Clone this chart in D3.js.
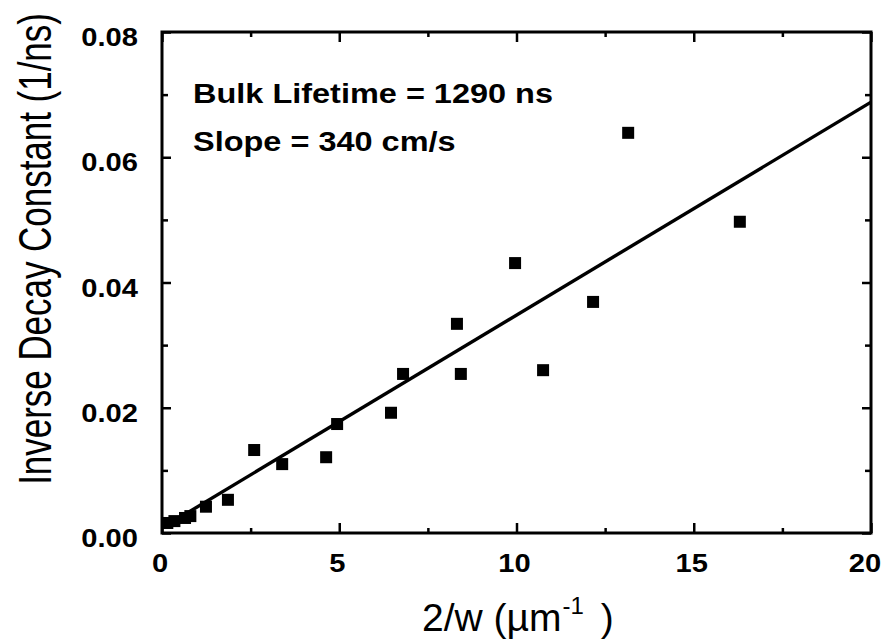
<!DOCTYPE html>
<html>
<head>
<meta charset="utf-8">
<script src="https://cdn.jsdelivr.net/npm/d3@7"></script>
<style>
  html, body { margin: 0; padding: 0; background: #fff; }
  svg { display: block; }
  text { font-family: "Liberation Sans", Arial, Helvetica, sans-serif; fill: #000; }
</style>
</head>
<body>
<svg id="chart" width="884" height="639"></svg>
<script>
// ---- data ----
const pointX = [0.15, 0.35, 0.65, 0.8, 1.24, 1.86, 2.6, 3.39, 4.63, 4.94, 6.46, 6.8, 8.32, 8.43, 9.96, 10.75, 12.16, 13.15, 16.3];
const pointY = [0.0016, 0.0019, 0.0024, 0.0027, 0.0042, 0.0053, 0.01325, 0.011, 0.0121, 0.0174, 0.0192, 0.0254, 0.0334, 0.0254, 0.0431, 0.026, 0.0369, 0.0639, 0.0497];
const fitX = [0, 20];
const fitY = [0.00078, 0.0688];
const xTicks = [0, 5, 10, 15, 20];
const xTickLabels = ["0", "5", "10", "15", "20"];
const xMinorTicks = [2.5, 7.5, 12.5, 17.5];
const yTicks = [0, 0.02, 0.04, 0.06, 0.08];
const yTickLabels = ["0.00", "0.02", "0.04", "0.06", "0.08"];
const yMinorTicks = [0.01, 0.03, 0.05, 0.07];
const annotations = ["Bulk Lifetime = 1290 ns", "Slope = 340 cm/s"];
const xTitle = "2/w (\u00B5m";
const xTitleSup = "-1";
const xTitleEnd = ")";
const yTitle = "Inverse Decay Constant (1/ns)";

// ---- layout ----
const svg = d3.select("#chart");
const L = 162, R = 871, T = 32, B = 533;
const x = d3.scaleLinear().domain([0, 20]).range([L, R]);
const y = d3.scaleLinear().domain([0, 0.08]).range([B, T]);

// ticks via d3 axes (inward)
function ticksAxis(axisFn, scale, vals, size, tx, ty) {
  const g = svg.append("g").attr("transform", `translate(${tx},${ty})`)
    .call(axisFn(scale).tickValues(vals).tickSize(size).tickFormat(""));
  g.select(".domain").remove();
  g.selectAll(".tick line").attr("stroke", "#000").attr("stroke-width", 2.5);
}
ticksAxis(d3.axisBottom, x, xTicks, -10, 0, B);
ticksAxis(d3.axisBottom, x, xMinorTicks, -5, 0, B);
ticksAxis(d3.axisTop, x, xTicks, -10, 0, T);
ticksAxis(d3.axisTop, x, xMinorTicks, -5, 0, T);
ticksAxis(d3.axisLeft, y, yTicks, -9, L, 0);
ticksAxis(d3.axisLeft, y, yMinorTicks, -6, L, 0);
ticksAxis(d3.axisRight, y, yTicks, -9, R, 0);
ticksAxis(d3.axisRight, y, yMinorTicks, -6, R, 0);

// frame
svg.append("rect").attr("x", L).attr("y", T).attr("width", R - L).attr("height", B - T)
  .attr("fill", "none").attr("stroke", "#000").attr("stroke-width", 3);

// tick labels (bold, slightly wide)
const sx = 1.12;
xTicks.forEach((v, i) => {
  svg.append("text")
    .attr("transform", `translate(${Math.min(x(v) - 2, 865)},${B + 39}) scale(${sx},1)`)
    .attr("text-anchor", "middle").attr("font-weight", "bold").attr("font-size", 26)
    .text(xTickLabels[i]);
});
yTicks.forEach((v, i) => {
  svg.append("text")
    .attr("transform", `translate(138,${y(v) + 14}) scale(${sx},1)`)
    .attr("text-anchor", "end").attr("font-weight", "bold").attr("font-size", 26)
    .text(yTickLabels[i]);
});

// fit line
const line = d3.line().x(d => x(d[0])).y(d => y(d[1]));
svg.append("path").datum(d3.zip(fitX, fitY)).attr("d", line)
  .attr("fill", "none").attr("stroke", "#000").attr("stroke-width", 3.4);

// data squares
const s = 12;
svg.append("g").selectAll("rect").data(d3.zip(pointX, pointY)).join("rect")
  .attr("x", d => x(d[0]) - s / 2).attr("y", d => y(d[1]) - s / 2)
  .attr("width", s).attr("height", s).attr("fill", "#000");

// annotations
const annBaselines = [103, 151];
annotations.forEach((t, i) => {
  svg.append("text")
    .attr("transform", `translate(193,${annBaselines[i]}) scale(1.16,1)`)
    .attr("font-weight", "bold").attr("font-size", 28)
    .text(t);
});

// x title
const xt = svg.append("text").attr("x", 422).attr("y", 631).attr("font-size", 39);
xt.append("tspan").text(xTitle);
xt.append("tspan").attr("font-size", 24).attr("dy", -17).attr("dx", 1).text(xTitleSup);
xt.append("tspan").attr("font-size", 39).attr("dy", 17).attr("dx", 17).text(xTitleEnd);

// y title (tall, condensed) – condensed with a transform scale along its length
const yt = svg.append("text")
  .attr("text-anchor", "middle").attr("font-size", 46)
  .text(yTitle);
const natural = yt.node().getComputedTextLength();
const k = 472 / natural;
yt.attr("transform", `translate(51,249) rotate(-90) scale(${k},1)`);
</script>
</body>
</html>
